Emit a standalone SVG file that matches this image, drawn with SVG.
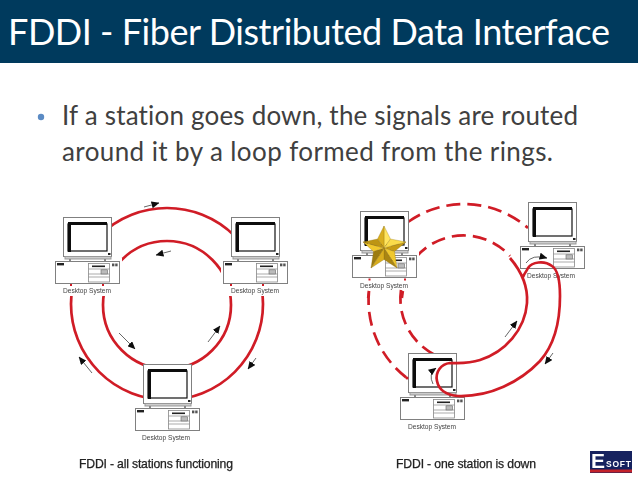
<svg xmlns="http://www.w3.org/2000/svg" width="638" height="479" viewBox="0 0 638 479">
<style>
.title{font-family:Lato,"Open Sans",sans-serif;font-size:36px;fill:#fff;font-variant-ligatures:none}
.body{font-family:Lato,"Open Sans",sans-serif;font-size:26px;fill:#404040;font-variant-ligatures:none}
.cap{font-family:"Liberation Sans",Arial,sans-serif;font-size:12.2px;fill:#222;stroke:#222;stroke-width:.25}
.lab{font-family:"Liberation Sans",Arial,sans-serif;font-size:6.6px;fill:#444;text-anchor:middle}
.ring{fill:none;stroke:#d01c26;stroke-width:2.7}
.dash{stroke-dasharray:14 7}
.arr{fill:none;stroke:#555;stroke-width:.9;marker-end:url(#ah)}
.g{fill:#fff;stroke:#808080;stroke-width:1}
</style>
<defs>
<filter id="soft" x="-5%" y="-5%" width="110%" height="110%"><feGaussianBlur stdDeviation="0.45"/></filter>
<marker id="ah" markerUnits="userSpaceOnUse" markerWidth="8" markerHeight="7" refX="7.500" refY="3.500" orient="auto"><path d="M0 0L8 3.500L0 7z" fill="#111"/></marker>
<g id="pc">
<rect x="-2" y="-3" width="69" height="37" fill="#fff"/>
<rect class="g" x="8.500" y="-43.500" width="48" height="39"/>
<rect x="10" y="-4.500" width="46" height="2.500" fill="#ccc" stroke="#999"/>
<rect x="14" y="-2" width="2" height="2" fill="#888"/><rect x="49" y="-2" width="2" height="2" fill="#888"/>
<rect x="13" y="-37" width="39" height="27" fill="#fff" stroke="#111" stroke-width="1.200"/>
<path d="M13 -39H52V-36H16V-9H13z" fill="#111"/>
<rect x="53" y="-8" width="2.500" height="2" fill="#222"/>
<rect class="g" x=".5" y=".5" width="64" height="22"/>
<rect x="2" y="2" width="7" height="2.400" fill="#222"/>
<rect x="33.500" y="2.500" width="21" height="18.500" fill="#fff" stroke="#888" stroke-width=".8"/>
<rect x="37" y="4.500" width="13" height="1.600" fill="#222"/>
<path d="M33.500 8H54.500M33.500 13H54.500M33.500 16H54.500" stroke="#888" stroke-width=".7"/>
<rect x="46" y="8.800" width="6.500" height="4.200" fill="#bbb" stroke="#666" stroke-width=".6"/>
<rect x="57" y="2.500" width="2.400" height="2.800" fill="#555"/><rect x="60.200" y="2.500" width="2.400" height="2.800" fill="#555"/>
</g>
</defs>
<rect width="638" height="479" fill="#fff"/>
<g id="header">
<rect width="638" height="63" fill="#003a5d"/>
<text class="title" x="8" y="45" textLength="602" lengthAdjust="spacing">FDDI - Fiber Distributed Data Interface</text>
</g>
<g id="bullet">
<circle cx="41" cy="117" r="3.200" fill="#5b8bc4"/>
<text class="body" x="62" y="125" textLength="516" lengthAdjust="spacing">If a station goes down, the signals are routed</text>
<text class="body" x="62" y="161" textLength="491" lengthAdjust="spacing">around it by a loop formed from the rings.</text>
</g>
<g filter="url(#soft)">
<g id="connectors-left">
<circle class="ring" cx="167" cy="304" r="96"/>
<circle class="ring" cx="167" cy="305" r="64"/>
<g><path class="arr" d="M144 207L159 203"/><path class="arr" d="M171 251L156 255"/><path class="arr" d="M119 333L135 349"/><path class="arr" d="M208 342L220 326"/><path class="arr" d="M256 358L248 369"/><path class="arr" d="M92 373L79 357"/></g>
</g>
<g id="connectors-right">
<path class="ring dash" d="M408 222A97 97 0 0 1 528 228"/>
<path class="ring dash" d="M416 257A63 63 0 0 1 510 256"/>
<path class="ring dash" d="M369 291A97 97 0 0 0 407 378"/>
<path class="ring dash" d="M401 290A63 63 0 0 0 435 355"/>
</g>
<g id="pc-l1"><use href="#pc" x="55" y="261"/><rect x="46" y="285" width="84" height="11" fill="#fff"/><text class="lab" x="87" y="293" textLength="48">Desktop System</text></g>
<g id="pc-l2"><use href="#pc" x="223" y="261"/><rect x="215" y="285" width="80" height="11" fill="#fff"/><text class="lab" x="255" y="293" textLength="48">Desktop System</text></g>
<g id="pc-l3"><use href="#pc" x="135" y="408"/><text class="lab" x="166" y="440" textLength="48">Desktop System</text></g>
<path d="M71 284v2M103 284v2M231 284v2M263 284v2" stroke="#d01c26" stroke-width="2"/>
<g id="pc-r1"><use href="#pc" x="352" y="255"/><text class="lab" x="384" y="288" textLength="48">Desktop System</text>
<path d="M369.500 278.500v2M405 278.500v2" stroke="#d01c26" stroke-width="2"/>
<path d="M369 291l-1 7M403 291l-1 7" stroke="#d01c26" stroke-width="2.400"/></g>
<g id="pc-r2"><use href="#pc" x="520" y="246"/><text class="lab" x="551" y="278" textLength="48">Desktop System</text></g>
<g id="pc-r3"><use href="#pc" x="400" y="397"/><text class="lab" x="432" y="429" textLength="48">Desktop System</text></g>
<g id="solid-loop">
<path class="ring" d="M510 258C522 272 528 288 527 303C525 330 505 352 480 360C468 364 458 363 450 363C441 364 435 372 437 381C439 391 447 395 458 396C490 397 520 382 540 361C556 343 560 318 560 296C560 280 558 270 552 266C544 260 532 262 528 268C526 272 524 274 523 277"/>
<path class="arr" d="M505 337L517 321"/><path class="arr" d="M553 353L545 364"/>
<path class="arr" d="M526 263Q532 254 547 258"/><path class="arr" d="M433 384Q428 374 436 368"/>
<circle cx="407" cy="378" r="1.500" fill="#d01c26"/>
</g>
</g>
<g id="star" stroke="#8a6d10" stroke-width=".3">
<polygon points="384,226 390.500,239 384,248" fill="#ffe45c"/><polygon points="384,226 377.500,239 384,248" fill="#d9ae1e"/>
<polygon points="406,242 394.500,251.500 384,248" fill="#c79c14"/><polygon points="406,242 390.500,239 384,248" fill="#fbdc4a"/>
<polygon points="397,268 394.500,251.500 384,248" fill="#f0c82e"/><polygon points="397,268 384,259.500 384,248" fill="#a98512"/>
<polygon points="371,268 384,259.500 384,248" fill="#d9ae1e"/><polygon points="371,268 373.500,251.500 384,248" fill="#9c7c10"/>
<polygon points="363,242 373.500,251.500 384,248" fill="#f0c82e"/><polygon points="363,242 377.500,239 384,248" fill="#bd9514"/>
</g>
<g filter="url(#soft)">
<text class="cap" x="79" y="468" textLength="154">FDDI - all stations functioning</text>
<text class="cap" x="396" y="468" textLength="140">FDDI - one station is down</text>
<g id="logo">
<rect x="590" y="451" width="42" height="22" fill="#13205f"/>
<rect x="590" y="469.500" width="42" height="3" fill="#c4202a"/>
<text x="591" y="468" style="font-family:'Liberation Sans',sans-serif;font-weight:bold;font-size:21px;fill:#fff">E</text>
<text x="606" y="467" textLength="25" style="font-family:'Liberation Sans',sans-serif;font-weight:bold;font-size:8.500px;fill:#fff">SOFT</text>
</g>
</g>
</svg>
